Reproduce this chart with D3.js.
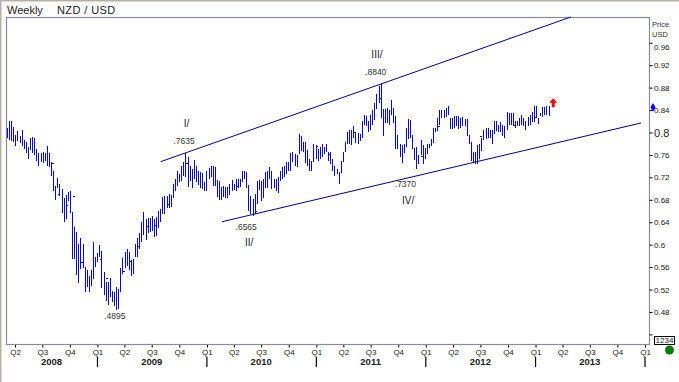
<!DOCTYPE html>
<html>
<head>
<meta charset="utf-8">
<script src="https://cdn.jsdelivr.net/npm/d3@7"></script>
<style>
  html, body { margin: 0; padding: 0; background: #fff; }
  svg { display: block; font-family: "Liberation Sans", Arial, sans-serif; }
</style>
</head>
<body>
<div id="canvas"></div>
<script>
"use strict"

/***********************************
 DATA
************************************/
let firstWeek = new Date(2008, 2, 7);

// weekly highs, oldest first
let highs = [
    .808,.821,.821,.810,.795,.803,.794,.805,.786,.783,.774,.790,.792,.790,.770,.763,.763,.765,.763,.776,
    .763,.747,.732,.705,.719,.709,.699,.683,.689,.694,.696,.659,.632,.623,.602,.611,.602,.560,.554,.545,
    .554,.605,.578,.585,.600,.589,.551,.533,.533,.540,.518,.516,.524,.521,.558,.576,.587,.593,.587,.573,
    .574,.602,.611,.620,.641,.658,.645,.647,.647,.652,.645,.649,
    .660,.663,.685,.687,.687,.690,.689,.709,.717,.731,.726,.741,.747,.763,.756,.741,.735,.751,.741,.731,
    .729,.727,.711,.731,.737,.741,.741,.738,.715,.714,.703,.705,.702,.703,.708,.715,.709,.717,.717,.717,.731,
    .731,.729,.707,.687,.681,.690,.713,.715,.714,.717,.729,.731,.738,.732,.717,.717,.720,.731,.738,.741,
    .747,.747,.763,.765,.762,.759,.797,.794,.783,.783,.768,.753,.750,.780,.777,.771,.774,.780,.774,.780,
    .765,.765,.753,.741,.735,.729,.750,.765,.783,.801,.805,
    .805,.812,.801,.800,.797,.821,.832,.829,.820,.832,.841,.853,.868,.883,.888,.842,.842,.844,.841,.858,
    .844,.829,.795,.780,.777,.780,.808,.824,.823,.795,.773,.774,.759,.786,.777,.773,.779,.780,.789,.808,
    .808,.826,.841,.841,.841,.844,.848,.826,.826,.830,.829,.829,.826,.828,.824,.824,.795,.783,.765,.765,
    .777,.780,.791,.805,.808,.808,.805,.805,.820,.821,.814,.818,.814,.812,.836,.835,.835,.835,.821,.821,
    .826,.832,.826,.820,.828,.832,.836,.848,.848,.826,.835,.846,.846,.847,.847
];

// weekly lows, oldest first
let lows = [
    .790,.786,.785,.783,.776,.785,.781,.776,.770,.763,.752,.768,.763,.759,.750,.741,.748,.745,.750,.741,
    .738,.723,.696,.680,.701,.687,.656,.641,.645,.678,.656,.575,.575,.546,.532,.556,.558,.515,.524,.515,
    .526,.538,.560,.569,.578,.522,.510,.500,.492,.506,.497,.491,.484,.486,.516,.548,.558,.562,.555,.545,
    .548,.578,.578,.593,.605,.618,.609,.620,.623,.625,.614,.616,
    .629,.641,.654,.655,.666,.666,.667,.684,.696,.705,.711,.714,.723,.721,.703,.714,.701,.717,.711,.707,
    .701,.699,.696,.696,.717,.720,.705,.705,.685,.679,.679,.685,.683,.683,.689,.695,.697,.696,.701,.702,.711,
    .717,.701,.660,.654,.652,.654,.673,.697,.678,.683,.701,.701,.717,.699,.701,.696,.693,.713,.717,.720,
    .726,.732,.732,.747,.741,.738,.762,.767,.765,.745,.741,.731,.731,.747,.753,.750,.753,.756,.762,.765,
    .750,.744,.731,.723,.726,.709,.727,.747,.765,.780,.780,
    .777,.791,.782,.780,.785,.791,.814,.811,.801,.805,.814,.823,.842,.852,.826,.794,.817,.817,.814,.832,
    .817,.771,.770,.756,.745,.763,.774,.789,.791,.771,.751,.735,.744,.759,.744,.753,.762,.773,.776,.782,
    .801,.803,.814,.826,.826,.828,.832,.806,.806,.808,.811,.806,.808,.811,.811,.794,.780,.750,.747,.744,
    .744,.753,.767,.786,.788,.791,.791,.780,.797,.803,.801,.801,.794,.791,.805,.814,.814,.814,.808,.811,
    .811,.814,.811,.805,.811,.814,.818,.818,.826,.815,.829,.828,.832,.832,.829
];

// bars whose close tick can be made out, as week number and close
let closeWeeks = [21, 24, 28, 31, 35, 44, 47, 55, 58, 62, 66, 70, 76, 85, 109, 118, 147, 153, 165, 177, 197, 205, 225, 241, 251];
let closeValues = [.745, .690, .670, .686, .568, .573, .540, .552, .570, .596, .632, .634, .672, .745, .703, .660, .775, .760, .800, .860, .757, .810, .793, .812, .826];

let quarterLabels = ["Q2","Q3","Q4","Q1","Q2","Q3","Q4","Q1","Q2","Q3","Q4","Q1","Q2","Q3","Q4","Q1","Q2","Q3","Q4","Q1","Q2","Q3","Q4","Q1"];
let yearLabels = ["2008","2009","2010","2011","2012","2013"];
let yearLabelDates = [new Date(2008, 7, 1), new Date(2009, 6, 1), new Date(2010, 6, 1), new Date(2011, 6, 1), new Date(2012, 6, 1), new Date(2013, 6, 1)];
let yearStarts = [new Date(2009, 0, 1), new Date(2010, 0, 1), new Date(2011, 0, 1), new Date(2012, 0, 1), new Date(2013, 0, 1), new Date(2014, 0, 1)];

let priceTicks = [0.96, 0.92, 0.88, 0.84, 0.8, 0.76, 0.72, 0.68, 0.64, 0.6, 0.56, 0.52, 0.48, 0.44];

// trend channel, two ends each
let upperLine = [{ date: new Date(2009, 6, 31), price: .748 }, { date: new Date(2013, 3, 29), price: 1.006 }];
let lowerLine = [{ date: new Date(2010, 1, 21), price: .641 }, { date: new Date(2013, 11, 19), price: .817 }];

let lastPrice = .845;

// wave notes: text, date, price
let notes = [
    { text: "I/", date: new Date(2009, 9, 25), price: .810, roman: true },
    { text: ".7635", date: new Date(2009, 9, 17), price: .779 },
    { text: "III/", date: new Date(2011, 6, 22), price: .932, roman: true },
    { text: ".8840", date: new Date(2011, 6, 18), price: .902 },
    { text: ".6565", date: new Date(2010, 4, 12), price: .627 },
    { text: "II/", date: new Date(2010, 4, 22), price: .598, roman: true },
    { text: ".7370", date: new Date(2011, 9, 25), price: .703 },
    { text: "IV/", date: new Date(2011, 10, 3), price: .673, roman: true },
    { text: ".4895", date: new Date(2009, 1, 28), price: .467 }
];

/***********************************
 CANVAS
************************************/
let svgWidth = 679;
let svgHeight = 382;
let plotLeft = 6.5;
let plotRight = 649.5;
let plotTop = 17.5;
let plotBottom = 344.5;

let svg = d3.select("#canvas")
    .append("svg")
    .attr("width", svgWidth)
    .attr("height", svgHeight);

// Window edge
svg.append("rect").attr("x", 0).attr("y", 0).attr("width", svgWidth).attr("height", 1.5).attr("fill", "#b4b1a4");
svg.append("rect").attr("x", 0).attr("y", 0).attr("width", 1.5).attr("height", svgHeight).attr("fill", "#b4b1a4");

/***********************************
 SCALES
************************************/
let xScale = d3.scaleTime()
    .domain([new Date(2008, 3, 1), new Date(2014, 0, 1)])
    .range([15, 645]);

let yScale = d3.scaleLinear()
    .domain([0.8, 0.44])
    .range([132.5, 331.5 + 2.9]);

let weekDate = i => d3.timeWeek.offset(firstWeek, i);

/***********************************
 FRAME
************************************/
svg.append("rect")
    .attr("x", plotLeft)
    .attr("y", plotTop)
    .attr("width", plotRight - plotLeft)
    .attr("height", plotBottom - plotTop)
    .attr("fill", "none")
    .attr("stroke", "#8b8b98")
    .attr("stroke-width", 1.2);

/***********************************
 AXES
************************************/
let quarterDates = d3.timeMonth.every(3).range(new Date(2008, 3, 1), new Date(2014, 0, 2));
let xAxis = d3.axisBottom(xScale)
    .tickValues(quarterDates)
    .tickSize(2.5)
    .tickPadding(2)
    .tickFormat((d, i) => quarterLabels[i]);

let xAxisG = svg.append("g")
    .attr("transform", `translate(0, ${plotBottom + 0.5})`)
    .call(xAxis);
xAxisG.select(".domain").remove();
xAxisG.selectAll("text").attr("font-size", 8).attr("font-family", "Liberation Sans").attr("fill", "#222");

svg.selectAll("line.year")
    .data(yearStarts)
    .join("line")
    .attr("class", "year")
    .attr("x1", d => xScale(d))
    .attr("x2", d => xScale(d))
    .attr("y1", 357)
    .attr("y2", 367)
    .attr("stroke", "#000")
    .attr("stroke-width", 1.2);

svg.selectAll("text.year")
    .data(yearLabels)
    .join("text")
    .attr("class", "year")
    .attr("x", (d, i) => xScale(yearLabelDates[i]))
    .attr("y", 365)
    .attr("text-anchor", "middle")
    .attr("font-size", 9.5)
    .attr("font-weight", "bold")
    .attr("fill", "#222")
    .text(d => d);

let yAxis = d3.axisRight(yScale)
    .tickValues(priceTicks)
    .tickSize(3)
    .tickPadding(1.5)
    .tickFormat(d => d === 0.44 ? "" : String(d));

let yAxisG = svg.append("g")
    .attr("transform", `translate(${plotRight}, 0)`)
    .call(yAxis);
yAxisG.select(".domain").remove();
yAxisG.selectAll("text")
    .attr("font-size", d => d === 0.8 ? 11 : 8)
    .attr("font-family", "Liberation Sans")
    .attr("fill", "#222")
    .attr("dy", d => d === 0.96 ? "0.85em" : "0.32em");

svg.append("text").attr("x", 652).attr("y", 27).attr("font-size", 7.5).attr("fill", "#333").text("Price");
svg.append("text").attr("x", 652).attr("y", 37).attr("font-size", 7.5).attr("fill", "#333").text("USD");

/***********************************
 PRICE BARS
************************************/
let bars = svg.append("g").attr("shape-rendering", "crispEdges");
bars.selectAll("line")
    .data(highs)
    .join("line")
    .attr("x1", (d, i) => xScale(weekDate(i)))
    .attr("x2", (d, i) => xScale(weekDate(i)))
    .attr("y1", d => yScale(d))
    .attr("y2", (d, i) => yScale(lows[i]))
    .attr("stroke", "#0000ff")
    .attr("stroke-width", 1);

bars.selectAll("path")
    .data(closeWeeks)
    .join("path")
    .attr("d", (d, i) => d3.line()([
        [xScale(weekDate(d)), yScale(closeValues[i])],
        [xScale(weekDate(d + 1)), yScale(closeValues[i])]
    ]))
    .attr("stroke", "#0000ff")
    .attr("stroke-width", 1);

/***********************************
 TREND CHANNEL
************************************/
let trend = d3.line().x(d => xScale(d.date)).y(d => yScale(d.price));
[upperLine, lowerLine].forEach(pts => {
    svg.append("path")
        .attr("d", trend(pts))
        .attr("fill", "none")
        .attr("stroke", "#000090")
        .attr("stroke-width", 1);
});

/***********************************
 TEXT
************************************/
svg.append("text").attr("x", 7).attr("y", 14).attr("font-size", 11).attr("fill", "#222").text("Weekly");
svg.append("text").attr("x", 57).attr("y", 14).attr("font-size", 11).attr("letter-spacing", 0.4).attr("fill", "#222").text("NZD / USD");

svg.selectAll("text.note")
    .data(notes)
    .join("text")
    .attr("class", "note")
    .attr("x", d => xScale(d.date))
    .attr("y", d => yScale(d.price))
    .attr("text-anchor", "middle")
    .attr("font-size", d => d.roman ? 10 : 8.5)
    .attr("fill", d => d.roman ? "#222" : "#333")
    .text(d => d.text);

/***********************************
 MARKERS
************************************/
// Red up arrow after the last bar
let arrowX = xScale(new Date(2013, 2, 1));
let arrowY = yScale(.861);
svg.append("path")
    .attr("d", `M${arrowX},${arrowY} l4,4.5 h-2.5 v4.5 h-3 v-4.5 h-2.5 z`)
    .attr("fill", "#ff0000");

// Last price marker on the axis
svg.append("path")
    .attr("d", d3.symbol().type(d3.symbolDiamond).size(22)())
    .attr("transform", `translate(${plotRight + 3.5}, ${yScale(lastPrice)})`)
    .attr("fill", "#0000e0");

// Box under the price scale and green status dot
svg.append("rect")
    .attr("x", 654.5).attr("y", 336.5).attr("width", 20).attr("height", 8)
    .attr("fill", "#fff").attr("stroke", "#000");
svg.append("text")
    .attr("x", 664.5).attr("y", 343.3)
    .attr("text-anchor", "middle")
    .attr("font-size", 8).attr("fill", "#222")
    .text("1234");
svg.append("circle").attr("cx", 669.5).attr("cy", 350).attr("r", 4.5).attr("fill", "#008000");
</script>
</body>
</html>
